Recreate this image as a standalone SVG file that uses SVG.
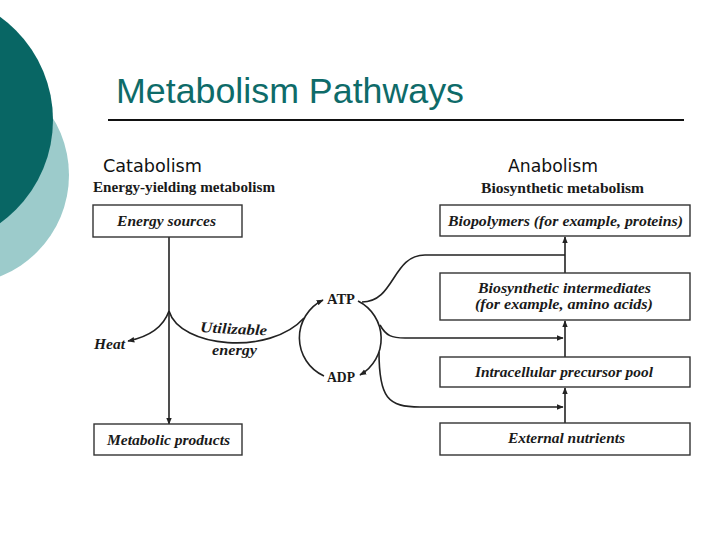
<svg xmlns="http://www.w3.org/2000/svg" width="720" height="540" viewBox="0 0 720 540">
<style>
.box{fill:#fff;stroke:#333;stroke-width:1.4}
.lbl{font-family:"Liberation Serif",serif;font-style:italic;font-weight:bold;font-size:15px;fill:#1a1a1a}
.hdr{font-family:"Liberation Serif",serif;font-weight:bold;font-size:14px;fill:#1a1a1a}
.sec{font-family:"DejaVu Sans","Liberation Sans",sans-serif;font-size:17px;fill:#111}
.ln{fill:none;stroke:#222;stroke-width:1.6}
.nuc{font-family:"Liberation Serif",serif;font-weight:bold;font-size:15px;fill:#1a1a1a}
</style>
<defs>
<marker id="ah" viewBox="0 0 10 10" refX="9" refY="5" markerWidth="7" markerHeight="7" orient="auto" markerUnits="userSpaceOnUse">
<path d="M0,1 L10,5 L0,9 Z" fill="#222"/>
</marker>
</defs>
<rect width="720" height="540" fill="#fff"/>
<circle cx="-40" cy="175" r="109" fill="#9ccbcb"/>
<circle cx="-74" cy="120" r="127" fill="#086664"/>
<text x="116" y="103" font-family="Liberation Sans,Arial,sans-serif" font-size="35" fill="#0e6b69" textLength="348" lengthAdjust="spacingAndGlyphs">Metabolism Pathways</text>
<line x1="108" y1="120" x2="684" y2="120" stroke="#111" stroke-width="2"/>
<text class="sec" x="103" y="172" textLength="99" lengthAdjust="spacingAndGlyphs">Catabolism</text>
<text class="sec" x="508" y="172" textLength="90" lengthAdjust="spacingAndGlyphs">Anabolism</text>
<text class="hdr" x="93" y="192" textLength="182" lengthAdjust="spacingAndGlyphs">Energy-yielding metabolism</text>
<text class="hdr" x="481" y="193" textLength="163" lengthAdjust="spacingAndGlyphs">Biosynthetic metabolism</text>

<g id="connectors">
<path class="ln" d="M169 237 L169 424" marker-end="url(#ah)"/>
<path class="ln" d="M169 311 C163 328 148 337 128 341" marker-end="url(#ah)"/>
<path class="ln" d="M169 311 C180 348 270 356 304 318"/>
<path class="ln" d="M324 376 A42 42 0 0 1 323 300" marker-end="url(#ah)"/>
<path class="ln" d="M358 301 A42 42 0 0 1 360 375" marker-end="url(#ah)"/>
<path class="ln" d="M362 302 C395 302 392 255 425 255 L565 255"/>
<path class="ln" d="M380 325 C386 336 392 338 405 338 L563 338" marker-end="url(#ah)"/>
<path class="ln" d="M379 352 C379 398 388 407 420 407 L563 407" marker-end="url(#ah)"/>
<path class="ln" d="M565 423 L565 388" marker-end="url(#ah)"/>
<path class="ln" d="M565 357 L565 321" marker-end="url(#ah)"/>
<path class="ln" d="M565 273 L565 237" marker-end="url(#ah)"/>
</g>

<g id="energy-sources"><rect class="box" x="93" y="205" width="149" height="32"/><text class="lbl" x="117" y="226" textLength="99" lengthAdjust="spacingAndGlyphs">Energy sources</text></g>
<g id="metabolic-products"><rect class="box" x="94" y="424" width="148" height="31"/><text class="lbl" x="107" y="445" textLength="123" lengthAdjust="spacingAndGlyphs">Metabolic products</text></g>
<g id="heat"><text class="lbl" x="94" y="349" textLength="31" lengthAdjust="spacingAndGlyphs">Heat</text></g>
<g id="utilizable"><text class="lbl" transform="translate(200 332) rotate(3)" textLength="67" lengthAdjust="spacingAndGlyphs">Utilizable</text><text class="lbl" x="212" y="355" textLength="45" lengthAdjust="spacingAndGlyphs">energy</text></g>
<g id="atp"><text class="nuc" x="327" y="304" textLength="28" lengthAdjust="spacingAndGlyphs">ATP</text></g>
<g id="adp"><text class="nuc" x="327" y="382" textLength="28" lengthAdjust="spacingAndGlyphs">ADP</text></g>
<g id="biopolymers"><rect class="box" x="440" y="205" width="250" height="31"/><text class="lbl" x="448" y="226" textLength="235" lengthAdjust="spacingAndGlyphs">Biopolymers (for example, proteins)</text></g>
<g id="intermediates"><rect class="box" x="440" y="273" width="250" height="47"/><text class="lbl" x="478" y="293" textLength="173" lengthAdjust="spacingAndGlyphs">Biosynthetic intermediates</text><text class="lbl" x="475" y="309" textLength="178" lengthAdjust="spacingAndGlyphs">(for example, amino acids)</text></g>
<g id="precursor-pool"><rect class="box" x="440" y="357" width="250" height="30"/><text class="lbl" x="475" y="377" textLength="178" lengthAdjust="spacingAndGlyphs">Intracellular precursor pool</text></g>
<g id="external-nutrients"><rect class="box" x="440" y="423" width="250" height="32"/><text class="lbl" x="508" y="443" textLength="117" lengthAdjust="spacingAndGlyphs">External nutrients</text></g>
</svg>
